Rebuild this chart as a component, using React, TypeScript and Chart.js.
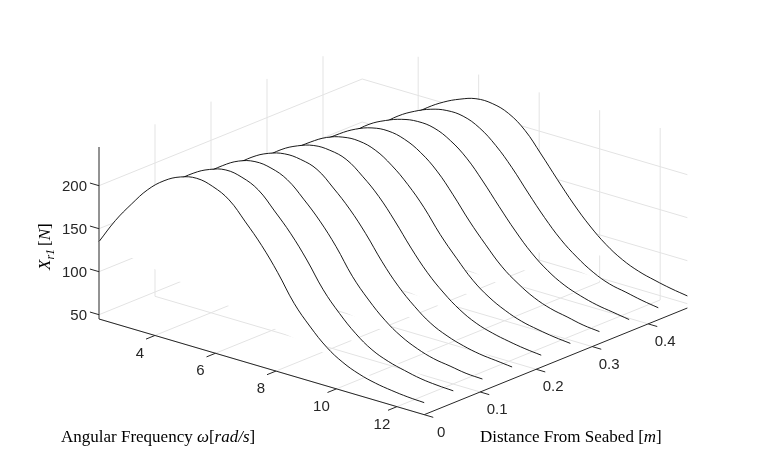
import { useEffect, useRef } from "react";
import Chart from "chart.js/auto";

// angular frequency samples [rad/s]
const omega = [2.15, 2.69, 3.23, 3.76, 4.3, 4.84, 5.38, 5.91, 6.45, 6.99, 7.53, 8.06, 8.6, 9.14, 9.68, 10.21, 10.75, 11.29, 11.83, 12.36, 12.9];
// distance from seabed of each curve [m]
const distances = [0, 0.052, 0.104, 0.157, 0.209, 0.261, 0.313, 0.366, 0.418, 0.47];
// X_r1 [N], one row per distance
const xr1 = [
    [135, 165, 190, 212, 228, 238, 242, 238, 228, 208, 186, 160, 130, 108, 90, 78, 70, 65, 62, 60, 59],
    [134, 162, 186, 208, 223, 233, 238, 235, 226, 207, 186, 161, 132, 110, 92, 79, 71, 66, 62, 60, 59],
    [132, 159, 183, 203, 218, 229, 234, 232, 224, 207, 187, 163, 134, 112, 94, 81, 72, 66, 63, 60, 59],
    [131, 157, 179, 199, 214, 224, 229, 228, 222, 206, 187, 164, 137, 114, 96, 82, 73, 67, 63, 61, 59],
    [129, 154, 175, 194, 209, 219, 225, 225, 220, 206, 188, 165, 139, 116, 98, 84, 74, 68, 64, 61, 59],
    [128, 151, 172, 190, 204, 215, 221, 222, 217, 205, 188, 167, 141, 119, 99, 85, 75, 68, 64, 61, 59],
    [126, 148, 168, 186, 200, 211, 218, 220, 216, 206, 190, 168, 143, 121, 101, 87, 76, 69, 65, 61, 59],
    [125, 146, 165, 182, 197, 207, 214, 217, 215, 206, 191, 170, 146, 123, 103, 88, 77, 70, 65, 62, 59],
    [123, 143, 162, 178, 193, 204, 212, 216, 215, 207, 192, 172, 148, 125, 105, 90, 78, 70, 66, 62, 59],
    [122, 140, 158, 174, 189, 201, 210, 216, 216, 210, 196, 174, 150, 127, 107, 91, 79, 71, 66, 62, 59],
];
const omegaTicks = [4, 6, 8, 10, 12];
const distTicks = [0, 0.1, 0.2, 0.3, 0.4];
const zTicks = [50, 100, 150, 200];

const W_MIN = 2.15, W_MAX = 12.9, D_MAX = 0.47, Z_MIN = 45, Z_MAX = 245;

// fixed oblique view of the 3-D box
function project(w: number, d: number, z: number) {
    return {
        x: 99 + (w - W_MIN) * 30.25 + d * 560,
        y: 319 + (w - W_MIN) * 8.9 - d * 227 - (z - Z_MIN) * 0.86,
    };
}

function seg(a: number[], b: number[]) {
    return [project(a[0], a[1], a[2]), project(b[0], b[1], b[2])];
}

export default function App() {
    const canvasRef = useRef<HTMLCanvasElement | null>(null);
    const chartRef = useRef<Chart | null>(null);

    useEffect(() => {
        if (!canvasRef.current) return;
        if (chartRef.current) chartRef.current.destroy();

        const curves = distances.map((d, k) => ({
            data: omega.map((w, i) => project(w, d, xr1[k][i])),
            borderColor: "#000000",
            borderWidth: 0.9,
            pointRadius: 0,
            showLine: true,
            tension: 0.4,
            fill: false,
        }));

        const gridSegs: { x: number; y: number }[][] = [];
        omegaTicks.forEach((w) => {
            gridSegs.push(seg([w, 0, Z_MIN], [w, D_MAX, Z_MIN]));
            gridSegs.push(seg([w, D_MAX, Z_MIN], [w, D_MAX, Z_MAX]));
        });
        distTicks.forEach((d) => {
            gridSegs.push(seg([W_MIN, d, Z_MIN], [W_MAX, d, Z_MIN]));
            if (d > 0) gridSegs.push(seg([W_MIN, d, Z_MIN], [W_MIN, d, Z_MAX]));
        });
        zTicks.forEach((z) => {
            gridSegs.push(seg([W_MIN, 0, z], [W_MIN, D_MAX, z]));
            gridSegs.push(seg([W_MIN, D_MAX, z], [W_MAX, D_MAX, z]));
        });
        const grid = gridSegs.map((s) => ({
            data: s, borderColor: "#e3e3e3", borderWidth: 1, pointRadius: 0, showLine: true, fill: false,
        }));

        const axisSegs: { x: number; y: number }[][] = [
            seg([W_MIN, 0, Z_MIN], [W_MIN, 0, Z_MAX]),
            seg([W_MIN, 0, Z_MIN], [W_MAX, 0, Z_MIN]),
            seg([W_MAX, 0, Z_MIN], [W_MAX, D_MAX, Z_MIN]),
        ];
        zTicks.forEach((z) => axisSegs.push(seg([W_MIN, 0, z], [W_MIN - 0.3, 0, z])));
        omegaTicks.forEach((w) => axisSegs.push(seg([w, 0, Z_MIN], [w, -0.016, Z_MIN])));
        distTicks.forEach((d) => axisSegs.push(seg([W_MAX, d, Z_MIN], [W_MAX + 0.3, d, Z_MIN])));
        const axes = axisSegs.map((s) => ({
            data: s, borderColor: "#262626", borderWidth: 1, pointRadius: 0, showLine: true, fill: false,
        }));

        const hidePlugin = {
            id: "hide",
            beforeDatasetDraw(chart: any, args: any) {
                if (args.index >= distances.length) return;
                const pts = chart.getDatasetMeta(args.index).data;
                const ctx = chart.ctx;
                ctx.save();
                ctx.fillStyle = "#ffffff";
                ctx.beginPath();
                pts.forEach((p: any, i: number) => (i ? ctx.lineTo(p.x, p.y) : ctx.moveTo(p.x, p.y)));
                ctx.closePath();
                ctx.fill();
                ctx.restore();
            },
        };

        const textPlugin = {
            id: "labels3d",
            afterDraw(chart: any) {
                const ctx = chart.ctx;
                const sx = chart.scales.x, sy = chart.scales.y;
                const at = (p: { x: number; y: number }) => ({ x: sx.getPixelForValue(p.x), y: sy.getPixelForValue(p.y) });
                ctx.save();
                ctx.fillStyle = "#262626";
                ctx.font = "15px 'Liberation Sans', Arial, sans-serif";
                ctx.textBaseline = "middle";
                ctx.textAlign = "right";
                zTicks.forEach((z) => {
                    const p = at(project(W_MIN, 0, z));
                    ctx.fillText(String(z), p.x - 12, p.y + 1);
                });
                ctx.textAlign = "center";
                omegaTicks.forEach((w) => {
                    const p = at(project(w, 0, Z_MIN));
                    ctx.fillText(String(w), p.x - 15, p.y + 18);
                });
                distTicks.forEach((d) => {
                    const p = at(project(W_MAX, d, Z_MIN));
                    ctx.fillText(String(d), p.x + 17, p.y + 18);
                });

                const serif = "'Liberation Serif', 'Times New Roman', serif";
                const parts = (items: [string, boolean][], x: number, y: number) => {
                    let cx = x;
                    items.forEach(([t, it]) => {
                        ctx.font = `${it ? "italic " : ""}17px ${serif}`;
                        ctx.fillText(t, cx, y);
                        cx += ctx.measureText(t).width;
                    });
                };
                ctx.textAlign = "left";
                ctx.fillStyle = "#000000";
                parts([["Angular Frequency ", false], ["ω", true], ["[", false], ["rad/s", true], ["]", false]], 61, 438);
                parts([["Distance From Seabed [", false], ["m", true], ["]", false]], 480, 438);

                ctx.translate(46, 270);
                ctx.rotate(-Math.PI / 2);
                ctx.font = `italic 17px ${serif}`;
                ctx.fillText("X", 0, 0);
                let cx = ctx.measureText("X").width;
                ctx.font = `italic 12px ${serif}`;
                ctx.fillText("r1", cx, 5);
                cx += ctx.measureText("r1").width + 3;
                ctx.font = `17px ${serif}`;
                ctx.fillText("[", cx, 0);
                cx += ctx.measureText("[").width;
                ctx.font = `italic 17px ${serif}`;
                ctx.fillText("N", cx, 0);
                cx += ctx.measureText("N").width;
                ctx.font = `17px ${serif}`;
                ctx.fillText("]", cx, 0);
                ctx.restore();
            },
        };

        chartRef.current = new Chart(canvasRef.current, {
            type: "scatter",
            data: { datasets: [...curves, ...axes, ...grid] as any },
            options: {
                animation: false,
                responsive: false,
                layout: { padding: 0 },
                plugins: { legend: { display: false }, tooltip: { enabled: false } },
                scales: {
                    x: { type: "linear", min: 0, max: 759, display: false },
                    y: { type: "linear", min: 0, max: 464, reverse: true, display: false },
                },
            },
            plugins: [hidePlugin, textPlugin],
        });

        return () => {
            if (chartRef.current) chartRef.current.destroy();
        };
    }, []);

    return (
        <div style={{ position: "fixed", left: 0, top: 0, width: 759, height: 464, background: "#fff" }}>
            <canvas ref={canvasRef} width={759} height={464} />
        </div>
    );
}
